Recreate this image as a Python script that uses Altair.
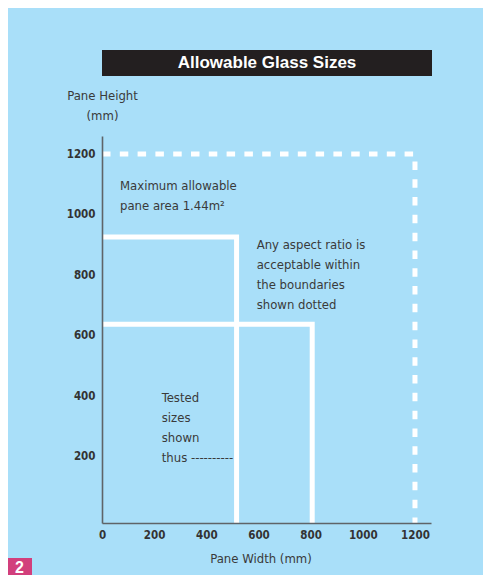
import altair as alt
import pandas as pd

# ---- values (mm) ----
max_width = 1200
max_height = 1200
tested_widths = [516, 806]
tested_heights = [926, 638]
x_ticks = [0, 200, 400, 600, 800, 1000, 1200]
y_ticks = [200, 400, 600, 800, 1000, 1200]
x_domain = [0, 1261.5]
y_domain = [-19, 1259.5]

note_texts = [
    "Maximum allowable\npane area 1.44m²",
    "Any aspect ratio is\nacceptable within\nthe boundaries\nshown dotted",
    "Tested\nsizes\nshown\nthus ----------",
]
note_x = [69, 593, 229]
note_y = [1081, 885, 382]

W, H = 329, 387
BG = "#A9DFF9"
TXT = "#3a3a3a"
COND = "DejaVu Sans Condensed, DejaVu Sans, sans-serif"

# ---- tables ----
ymin = y_domain[0]
bound = pd.DataFrame({
    "x": [0, max_width, max_width],
    "y": [max_height, max_height, ymin],
    "o": [0, 1, 2],
})
rows = []
for i, (w, h) in enumerate(zip(tested_widths, tested_heights)):
    for k, (xx, yy) in enumerate([(0, h), (w, h), (w, ymin)]):
        rows.append({"s": i, "x": xx, "y": yy, "o": k})
tested = pd.DataFrame(rows)
notes = pd.DataFrame({"x": note_x, "y": note_y, "t": note_texts})

xs = alt.Scale(domain=x_domain, nice=False, zero=False)
ys = alt.Scale(domain=y_domain, nice=False, zero=False)

x_axis = alt.Axis(
    values=x_ticks, format="d", ticks=False, grid=False, labelFlush=False,
    labelPadding=6, labelFont=COND, labelFontWeight="bold", labelFontSize=11.5,
    labelColor="#333333", domainColor="#5f6468", domainWidth=1.6, zindex=1,
    title="Pane Width (mm)", titleFont=COND, titleFontSize=13,
    titleFontWeight="normal", titleColor=TXT, titleX=158.5, titleY=39.7,
    titleAlign="center", titleBaseline="alphabetic",
)
y_axis = alt.Axis(
    values=y_ticks, format="d", ticks=False, grid=False, labelFlush=False,
    labelPadding=7, labelFont=COND, labelFontWeight="bold", labelFontSize=11.5,
    labelColor="#333333", domainColor="#5f6468", domainWidth=1.6, zindex=1,
    title=["Pane Height", "(mm)"], titleFont=COND, titleFontSize=13,
    titleFontWeight="normal", titleColor=TXT, titleAngle=0, titleX=0, titleY=-37,
    titleAlign="center", titleBaseline="alphabetic", titleLineHeight=20,
)

X = alt.X("x:Q", scale=xs, axis=x_axis)
Y = alt.Y("y:Q", scale=ys, axis=y_axis)

boundary = alt.Chart(bound).mark_line(
    color="white", strokeWidth=5, strokeDash=[8.5, 9.3], strokeCap="butt", strokeJoin="miter"
).encode(x=X, y=Y, order="o:Q")

tested_lines = alt.Chart(tested).mark_line(
    color="white", strokeWidth=5, strokeCap="butt", strokeJoin="miter"
).encode(x=X, y=Y, detail="s:N", order="o:Q")

note_layer = alt.Chart(notes).mark_text(
    align="left", baseline="alphabetic", font=COND, fontSize=13,
    lineHeight=20, color=TXT, lineBreak="\n"
).encode(x=X, y=Y, text="t:N")

title_df = pd.DataFrame({"t": ["Allowable Glass Sizes"]})
header_bar = alt.Chart(title_df).mark_rect(color="#231F20").encode(
    x=alt.value(0), x2=alt.value(W + 1), y=alt.value(-86), y2=alt.value(-60)
)
header_text = alt.Chart(title_df).mark_text(
    color="white", font="Liberation Sans, Arial, sans-serif", fontWeight="bold",
    fontSize=17, align="center", baseline="alphabetic"
).encode(x=alt.value(165), y=alt.value(-67.7), text="t:N")

page_df = pd.DataFrame({"t": ["2"]})
page_box = alt.Chart(page_df).mark_rect(color="#D23F7C").encode(
    x=alt.value(-94), x2=alt.value(-70), y=alt.value(422), y2=alt.value(439)
)
page_num = alt.Chart(page_df).mark_text(
    color="white", font="Liberation Sans, Arial, sans-serif", fontWeight="bold",
    fontSize=16, align="center", baseline="alphabetic"
).encode(x=alt.value(-82.5), y=alt.value(437), text="t:N")

chart = alt.layer(
    boundary, tested_lines, note_layer, header_bar, header_text, page_box, page_num
).properties(
    width=W, height=H, background=BG,
    padding={"left": 94, "top": 128, "right": 52, "bottom": 52},
    autosize=alt.AutoSizeParams(type="none"),
).configure_view(stroke=None)

chart.save("out.html", embed_options={"renderer": "svg", "actions": False})
